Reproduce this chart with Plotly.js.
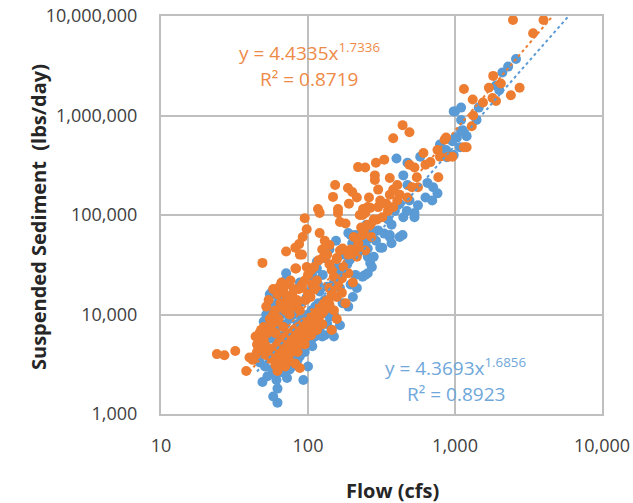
<!DOCTYPE html>
<html>
<head>
<meta charset="utf-8">
<script src="https://cdn.plot.ly/plotly-3.0.1.min.js"></script>
<style>html,body{margin:0;padding:0;background:#fff;}#chart{width:633px;height:503px;}</style>
</head>
<body>
<div id="chart"></div>
<script>
// ---- Data ----
const xTickVals = [10, 100, 1000, 10000];
const xTickText = ["10", "100", "1,000", "10,000"];
const yTickVals = [1000, 10000, 100000, 1000000, 10000000];
const yTickText = ["1,000", "10,000", "100,000", "1,000,000", "10,000,000"];

// Blue series: flow (cfs), suspended sediment (lbs/day)
const blueFlow = [55,59,67,78,55,53,64,78,51,53,49,61,62,58,62,93,107,130,145,100,78,130,117,107,57,64,70,115,130,108,71,
  60,66,70,74,80,85,90,95,100,106,112,118,125,70,75,62,58,56,60,66,72,80,85,90,98,105,112,120,125,135,140,150,55,52,50,48,57,68,72,50,47,
  195,225,272,310,370,255,272,245,210,195,165,172,126,115,104,88,120,148,200,188,
  420,360,320,255,210,265,255,235,215,202,188,165,150,280,
  400,475,580,790,960,1030,980,1100,650,710,760,700,630,560,490,530,470,445,530,370,360,440,300,475,445,
  2600,2300,2100,1900,2000,1450,1000,1100,1400,1100,1200,1000,1080,870,980,1130,820,880,
  170,190,160,230,250,140,155,
  54,58,62,66,68,74,80,86,92,98,104,120,135,150,160,175,185,200,220,240,260,290,330,350,390,420,75,82,88,95,60,66];
const blueLoad = [16000,16000,15500,12500,7000,5600,5200,5600,3000,2400,2100,2200,1800,1500,1300,2200,4800,6200,7000,3000,3000,14000,20000,19000,17000,16000,22000,34000,37000,24000,26000,
  5500,6000,6500,6000,7000,8000,9000,8500,10000,11000,12000,13000,12500,8000,9000,7500,6000,4500,4000,3500,3800,4000,3500,4500,5000,5500,6000,7000,6000,8000,9500,10000,12000,10000,8500,6500,2800,2600,2300,4000,3300,
  63000,63000,70000,47000,52000,38000,30000,25000,25000,20000,18500,13000,25000,29000,26000,21000,10500,11000,52000,66000,
  60000,60000,47000,46000,63000,33000,26000,24000,18500,15000,12000,7800,6000,38000,
  370000,335000,385000,510000,550000,600000,1100000,900000,210000,190000,165000,140000,150000,125000,140000,105000,110000,95000,95000,80000,63000,63000,70000,200000,250000,
  3700000,3100000,2700000,2000000,1800000,1200000,1100000,1200000,900000,700000,620000,600000,480000,450000,400000,710000,430000,380000,
  40000,35000,30000,50000,80000,45000,55000,
  9000,11000,13000,10000,14000,12000,10000,11500,13500,15000,17000,17000,19000,21000,25000,28000,32000,38000,42000,55000,58000,55000,65000,90000,110000,130000,2800,3400,3800,4200,2500,3000];

// Orange series: flow (cfs), suspended sediment (lbs/day)
const orangeFlow = [24,27,32,38,40,42,44,46,47,49,50,52,53,55,58,62,67,68,75,78,82,88,91,96,107,66,
  55,58,60,62,64,66,68,70,72,74,76,78,80,82,84,86,88,90,92,94,96,98,100,102,105,108,110,112,115,118,120,124,128,132,136,140,65,70,75,85,95,105,115,125,72,80,90,100,110,120,130,
  60,63,65,70,72,75,80,84,86,88,100,104,110,115,112,84,55,57,60,62,50,48,45,44,
  117,98,87,71,91,83,98,91,120,160,180,165,225,255,300,280,230,120,95,92,140,165,157,188,140,126,82,88,82,140,157,134,170,188,218,245,215,
  219,153,187,148,160,237,
  172,157,202,180,170,148,150,157,145,220,235,
  440,490,380,290,330,245,285,285,360,380,405,420,405,380,350,310,265,245,295,255,490,530,610,630,680,760,550,770,560,850,900,960,790,475,510,235,265,
  2480,4000,3400,1820,2050,1700,1150,2750,2400,1320,1550,1800,1900,1330,1300,870,1150,1200,
  200,215,190,
  52,54,58,62,64,68,72,76,80,95,100,105,110,118,125,130,135,145,150,160,175,195,205,240,270,320,340,360,300,260,
  45,48,52,57,60,63,67,71,76,81,86,93,98,104,110,116,122,130,138,145,60,64,68,73,78,84,88,92,97,103];
const orangeLoad = [4000,3900,4300,2700,3700,3500,3900,4700,6600,33000,5500,4800,6500,9000,10000,2700,12000,7500,13000,16000,3200,2900,20000,14000,20000,21000,
  3600,3800,3500,4000,4200,3900,4500,4300,4800,5000,4600,5400,5200,5800,6000,5600,6400,6200,6800,7000,6600,7400,7200,7800,8000,8400,7600,8800,9200,9000,9800,10200,10800,11500,12000,12500,3200,3000,3400,4200,5000,6200,7000,8000,5600,6500,7800,9000,10500,12000,13500,
  11000,9000,13000,11000,15000,10000,12000,14000,18000,11000,16000,15000,18000,22000,18500,13000,7000,8000,6500,8500,7500,7000,5000,6000,
  115000,72000,51000,43000,40000,29000,30000,18500,105000,105000,82000,85000,100000,120000,120000,90000,75000,66000,93000,60000,50000,44000,37000,40000,32000,37000,47000,40000,29000,18500,15000,13000,23000,26000,47000,44000,38000,
  303000,200000,187000,152000,115000,115000,
  46000,36000,21000,13000,16500,18500,11000,9000,7000,52000,63000,
  800000,680000,590000,335000,360000,300000,250000,225000,235000,180000,200000,160000,140000,120000,110000,140000,118000,105000,90000,80000,320000,300000,420000,320000,340000,450000,240000,240000,190000,570000,385000,385000,385000,150000,190000,100000,80000,
  9100000,9100000,6700000,2500000,2100000,1900000,1850000,1900000,1600000,1450000,1350000,1500000,1400000,1000000,780000,600000,480000,480000,
  170000,150000,130000,
  12000,14000,18000,16000,19000,17000,20000,22000,18000,22000,25000,28000,30000,35000,45000,55000,40000,28000,24000,20000,30000,45000,60000,70000,60000,95000,130000,160000,180000,150000,
  4200,4400,3900,4300,4700,5200,5600,6000,6500,7100,7500,8200,8600,9400,9000,10000,11000,12000,14000,16000,3100,3300,3600,4000,4200,4800,5200,5500,5900,6600];

// Power-law trendlines as labelled on the chart: y = a * x^b
const orangeTrend = {a: 4.4335, b: 1.7336, r2: 0.8719, xStart: 40, xEnd: 9000};
const blueTrend   = {a: 4.3693, b: 1.6856, r2: 0.8923, xStart: 45, xEnd: 9000};

const BLUE = "#5B9BD5", ORANGE = "#ED7D31";
function trendPts(t) {
  const xs = [t.xStart, t.xEnd];
  return {x: xs, y: xs.map(v => t.a * Math.pow(v, t.b))};
}
const bt = trendPts(blueTrend), ot = trendPts(orangeTrend);

const traces = [
  {x: blueFlow, y: blueLoad, type: "scatter", mode: "markers",
   marker: {color: BLUE, size: 10}, hoverinfo: "x+y", showlegend: false},
  {x: orangeFlow, y: orangeLoad, type: "scatter", mode: "markers",
   marker: {color: ORANGE, size: 10}, hoverinfo: "x+y", showlegend: false},
  {x: bt.x, y: bt.y, type: "scatter", mode: "lines",
   line: {color: BLUE, width: 2, dash: "dot"}, hoverinfo: "skip", showlegend: false},
  {x: ot.x, y: ot.y, type: "scatter", mode: "lines",
   line: {color: ORANGE, width: 2, dash: "dot"}, hoverinfo: "skip", showlegend: false}
];

const FONT = "'Open Sans', 'Liberation Sans', sans-serif";
const GRID = "#BFBFBF";
const axisCommon = {
  type: "log", showgrid: true, gridcolor: GRID, gridwidth: 2,
  showline: true, linecolor: GRID, linewidth: 2, mirror: true,
  zeroline: false, ticks: "outside", tickcolor: "rgba(0,0,0,0)",
  tickfont: {family: FONT, size: 18, color: "#404040"}, fixedrange: true
};

const layout = {
  width: 633, height: 503,
  margin: {l: 161, r: 31, t: 16, b: 89},
  paper_bgcolor: "#ffffff", plot_bgcolor: "#ffffff",
  font: {family: FONT},
  xaxis: Object.assign({}, axisCommon, {range: [1, 4], tickvals: xTickVals, ticktext: xTickText, ticklen: 14}),
  yaxis: Object.assign({}, axisCommon, {range: [3, 7], tickvals: yTickVals, ticktext: yTickText, ticklen: 18}),
  annotations: [
    {xref: "paper", yref: "paper", x: (38 - 161) / 441, y: (414 - 217) / 398, text: "<b>Suspended Sediment  (lbs/day)</b>",
     textangle: -90, showarrow: false, xanchor: "center", yanchor: "middle",
     font: {family: FONT, size: 20, color: "#262626"}},
    {xref: "paper", yref: "paper", x: (392 - 161) / 441, y: (414 - 490) / 398, text: "<b>Flow (cfs)</b>",
     showarrow: false, xanchor: "center", yanchor: "middle",
     font: {family: FONT, size: 20, color: "#262626"}},
    {xref: "paper", yref: "paper", x: (309 - 161) / 441, y: (414 - 52) / 398,
     text: "y = " + orangeTrend.a + "x<sup>" + orangeTrend.b + "</sup>",
     showarrow: false, xanchor: "center", yanchor: "middle", font: {family: FONT, size: 19, color: "#EE8A48"}},
    {xref: "paper", yref: "paper", x: (309 - 161) / 441, y: (414 - 79) / 398,
     text: "R² = " + orangeTrend.r2,
     showarrow: false, xanchor: "center", yanchor: "middle", font: {family: FONT, size: 19, color: "#EE8A48"}},
    {xref: "paper", yref: "paper", x: (455 - 161) / 441, y: (414 - 367) / 398,
     text: "y = " + blueTrend.a + "x<sup>" + blueTrend.b + "</sup>",
     showarrow: false, xanchor: "center", yanchor: "middle", font: {family: FONT, size: 19, color: "#6FA7DA"}},
    {xref: "paper", yref: "paper", x: (456 - 161) / 441, y: (414 - 394) / 398,
     text: "R² = " + blueTrend.r2,
     showarrow: false, xanchor: "center", yanchor: "middle", font: {family: FONT, size: 19, color: "#6FA7DA"}}
  ]
};

Plotly.newPlot("chart", traces, layout, {displayModeBar: false, staticPlot: true});
</script>
</body>
</html>
